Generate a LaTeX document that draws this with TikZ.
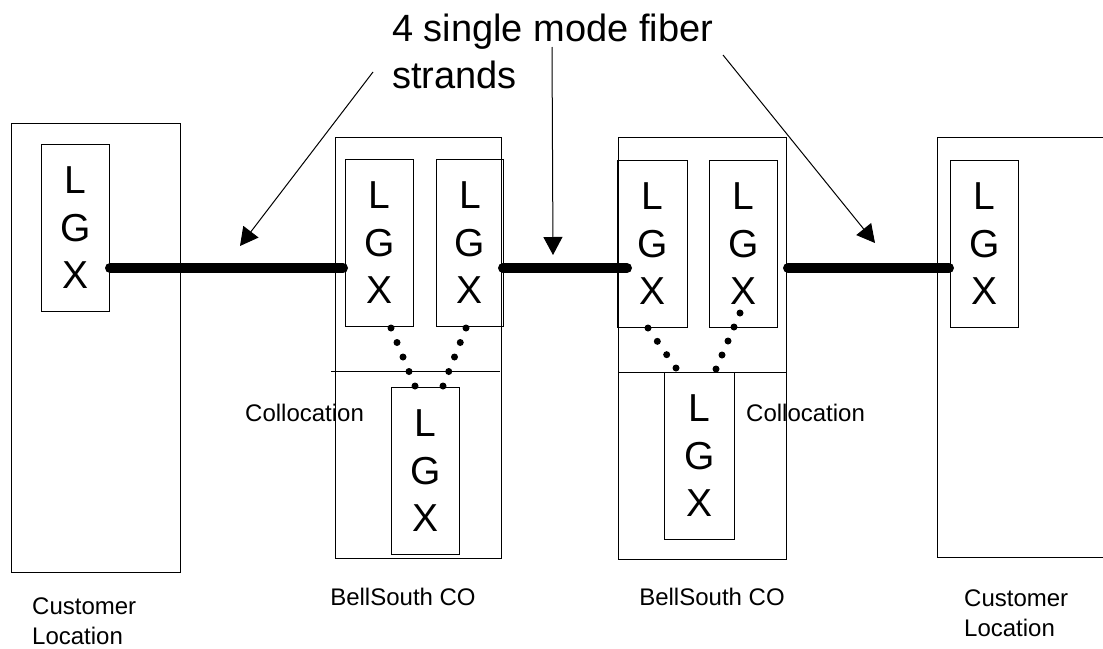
\documentclass[tikz,border=0pt]{standalone}
\usepackage{fontspec}
\setmainfont{Liberation Sans}
\usetikzlibrary{arrows.meta,calc}

\tikzset{
  frame/.style={line width=1pt},
  lgx/.style={draw, line width=1pt, minimum width=68pt, minimum height=167pt,
    inner sep=0pt, anchor=north west, align=center,
    font=\fontsize{39}{47.5}\selectfont},
  fiber/.style={line width=10pt, line cap=round},
  pointer/.style={line width=1pt, -{Triangle[length=18pt,width=19pt]}},
  tag/.style={inner sep=0pt, align=left, font=\fontsize{24}{30}\selectfont}
}

% dotted patch cords between two points
\newcommand\patchdots[3]{%
  \foreach \k in {0,...,#3} \fill ($(#1)!\k/#3!(#2)$) circle (3.5pt);}

\begin{document}
\begin{tikzpicture}[x=1pt,y=-1pt]
\useasboundingbox (0,0) rectangle (1103,648);

% === Customer location (left) ===
\draw[frame] (11,123) rectangle (180,572);
\node[lgx] (lgxcl) at (41,144) {L\\G\\X};

% === BellSouth CO 1 ===
\draw[frame] (335,137) rectangle (501,558);
\draw[frame] (331,371) -- (500,371);
\node[lgx] (lgxa) at (345,159) {L\\G\\X};
\node[lgx, minimum width=67pt] (lgxb) at (436,159) {L\\G\\X};
\node[lgx] (lgxc) at (391,387) {L\\G\\X};

% === BellSouth CO 2 ===
\draw[frame] (618,137) rectangle (786,559);
\draw[frame] (618,372) -- (786,372);
\node[lgx, minimum width=70pt] (lgxd) at (617,160) {L\\G\\X};
\node[lgx] (lgxe) at (709,160) {L\\G\\X};
\node[lgx, minimum width=70pt] (lgxf) at (664,372) {L\\G\\X};

% === Customer location (right) ===
\draw[frame] (937,137) rectangle (1115,557);
\node[lgx] (lgxcr) at (950,160) {L\\G\\X};

% === Fiber runs ===
\coordinate (fy) at (0,268);
\draw[fiber] (lgxcl.east |- fy) -- ($(lgxa.west |- fy)+(-2,0)$);
\draw[fiber] ($(lgxb.east |- fy)+(-1,0)$) -- ($(lgxd.west |- fy)+(10,0)$);
\draw[fiber] ($(lgxe.east |- fy)+(10,0)$) -- ($(lgxcr.west |- fy)+(-1,0)$);

% === Collocation patch cords ===
\coordinate (pa) at ($(lgxa.south west)+(46,1)$);
\coordinate (qa) at ($(lgxc.north west)+(24,-1)$);
\coordinate (pb) at ($(lgxb.south west)+(30,1)$);
\coordinate (qb) at ($(lgxc.north east)+(-17,-1)$);
\coordinate (pd) at ($(lgxd.south west)+(31,0)$);
\coordinate (qd) at ($(lgxf.north west)+(12,-4)$);
\coordinate (pe) at ($(lgxe.south west)+(31,-15)$);
\coordinate (qe) at ($(lgxf.north east)+(-19,-3)$);
\patchdots{pa}{qa}{4}
\patchdots{pb}{qb}{4}
\patchdots{pd}{qd}{3}
\patchdots{pe}{qe}{4}

% === Fiber callout ===
\node[anchor=north west, inner sep=0pt, align=left,
  font=\fontsize{38}{47}\selectfont] (fibers) at (392,14)
  {4 single mode fiber\\strands};
\coordinate (s1) at (373,72);  \coordinate (t1) at (240,246);
\coordinate (s2) at (552,47);  \coordinate (t2) at (553,255);
\coordinate (s3) at (723,55);  \coordinate (t3) at (875,243);
\draw[pointer] (s1) -- (t1);
\draw[pointer] (s2) -- (t2);
\draw[pointer] (s3) -- (t3);

% === Labels ===
\node[tag, anchor=west] (coll1) at (245,413) {Collocation};
\node[tag, anchor=west] (coll2) at (746,413) {Collocation};
\node[tag] (co1) at (403,597) {BellSouth CO};
\node[tag] (co2) at (712,597) {BellSouth CO};
\node[tag, anchor=north west] (custl) at (32,598) {Customer\\Location};
\node[tag, anchor=north west] (custr) at (964,590) {Customer\\Location};

\end{tikzpicture}
\end{document}
